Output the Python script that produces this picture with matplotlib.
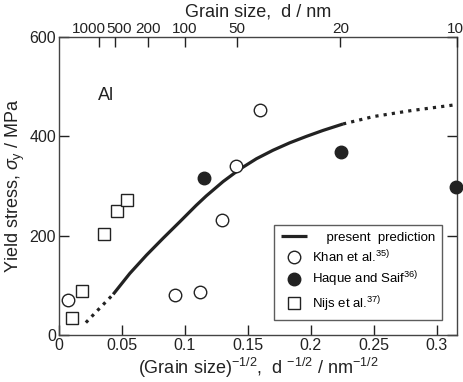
import numpy as np
import matplotlib
matplotlib.use("Agg")
import matplotlib.pyplot as plt
from matplotlib.transforms import ScaledTranslation

plt.rcParams['font.family'] = ['Liberation Sans', 'DejaVu Sans']
plt.rcParams['mathtext.fontset'] = 'custom'
plt.rcParams['mathtext.rm'] = 'Liberation Sans'
plt.rcParams['mathtext.it'] = 'Liberation Sans:italic'

# data
khan_x = [0.0074, 0.092, 0.112, 0.1296, 0.141, 0.1595]
khan_y = [70, 80, 86, 231, 340, 454]
haque_x = [0.1153, 0.2243, 0.3156]
haque_y = [317, 369, 298]
nijs_x = [0.010, 0.018, 0.0357, 0.0458, 0.0537]
nijs_y = [34, 89, 203, 250, 272]

pred_x = [0.0431, 0.0563, 0.0696, 0.0828, 0.096, 0.109, 0.117, 0.1304, 0.1437,
          0.1569, 0.170, 0.1833, 0.1966, 0.2098, 0.2257]
pred_y = [82, 124, 161, 195, 228, 261, 280, 309, 334, 355, 372, 387, 400, 412, 425]
low_x = [0.0214, 0.032, 0.0431]
low_y = [25, 53, 82]
high_x = [0.2257, 0.25, 0.28, 0.313]
high_y = [425, 440, 452, 463]

grain_nm = [1000, 500, 200, 100, 50, 20, 10]
grain_shift = [-10, 4, 0, 0, 0, 0, -2]  # label nudges in px, as in the original

ink = '#222222'

fig = plt.figure(figsize=(4.64, 3.82), dpi=100)
ax = fig.add_axes([0.127, 0.123, 0.858, 0.780])

ax.plot(pred_x, pred_y, color=ink, lw=2.3, solid_capstyle='butt',
        label='    present  prediction')
ax.plot(low_x, low_y, color=ink, lw=2.3, ls=(0, (1, 1.6)))
ax.plot(high_x, high_y, color=ink, lw=2.3, ls=(0, (1, 1.6)))

ax.plot(khan_x, khan_y, 'o', ms=9, mfc='white', mec=ink, mew=1.0, ls='none',
        label='Khan et al.$^{35)}$', clip_on=False, zorder=5)
ax.plot(haque_x, haque_y, 'o', ms=9, mfc=ink, mec=ink, mew=1.0, ls='none',
        label='Haque and Saif$^{36)}$', clip_on=False, zorder=5)
ax.plot(nijs_x, nijs_y, 's', ms=8, mfc='white', mec=ink, mew=1.0, ls='none',
        label='Nijs et al.$^{37)}$', clip_on=False, zorder=5)

xmax = 1 / np.sqrt(10)
ax.set_xlim(0, xmax)
ax.set_ylim(0, 600)
ax.set_xticks([0, 0.05, 0.1, 0.15, 0.2, 0.25, 0.3])
ax.set_xticklabels(['0', '0.05', '0.1', '0.15', '0.2', '0.25', '0.3'])
ax.set_yticks([0, 200, 400, 600])
ax.tick_params(direction='in', length=7, width=1, labelsize=11.5, colors=ink,
               right=True, pad=2)
for s in ax.spines.values():
    s.set_color('#444444')
    s.set_linewidth(1)

ax.set_xlabel('(Grain size)$^{-1/2}$,  d $^{-1/2}$ / nm$^{-1/2}$', fontsize=13, color=ink, labelpad=2)
ax.set_ylabel(r'Yield stress, $\mathit{\sigma}_{\rm y}$ / MPa', fontsize=13, color=ink, labelpad=2)

ax.text(0.031, 483, 'Al', fontsize=13, color=ink, va='center')

top = ax.twiny()
top.set_xlim(0, xmax)
top.set_xticks([1 / np.sqrt(d) for d in grain_nm])
top.set_xticklabels([str(d) for d in grain_nm])
top.tick_params(direction='in', length=7, width=1, labelsize=11, colors=ink, pad=1)
top.set_xlabel('Grain size,  d / nm', fontsize=13, color=ink, labelpad=4)
for s in top.spines.values():
    s.set_visible(False)
for lab, dx in zip(top.get_xticklabels(), grain_shift):
    lab.set_transform(lab.get_transform() + ScaledTranslation(dx / 100, 0, fig.dpi_scale_trans))

leg = ax.legend(loc='lower right', bbox_to_anchor=(0.963, 0.05), fontsize=9.5, frameon=True,
                fancybox=False, edgecolor='#333333', handlelength=2.0, handletextpad=0.4,
                borderpad=0.5, labelspacing=0.35, borderaxespad=0)
leg.get_frame().set_linewidth(1)

fig.savefig('out.png', dpi=100)
